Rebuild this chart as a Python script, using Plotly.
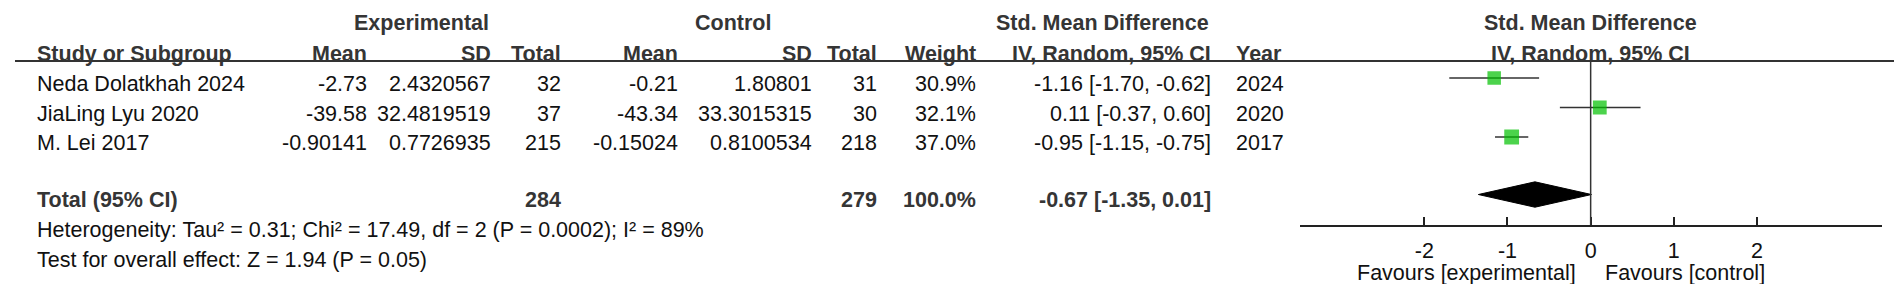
import plotly.graph_objects as go

# ---------------- data ----------------
studies = ["Neda Dolatkhah 2024", "JiaLing Lyu 2020", "M. Lei 2017"]
exp_mean = [-2.73, -39.58, -0.90141]
exp_sd = [2.4320567, 32.4819519, 0.7726935]
exp_total = [32, 37, 215]
ctrl_mean = [-0.21, -43.34, -0.15024]
ctrl_sd = [1.80801, 33.3015315, 0.8100534]
ctrl_total = [31, 30, 218]
weight = [30.9, 32.1, 37.0]
smd = [-1.16, 0.11, -0.95]
ci_lo = [-1.70, -0.37, -1.15]
ci_hi = [-0.62, 0.60, -0.75]
years = [2024, 2020, 2017]

total_exp = 284
total_ctrl = 279
total_weight = 100.0
total_smd = -0.67
total_lo = -1.35
total_hi = 0.01

heterogeneity = "Heterogeneity: Tau² = 0.31; Chi² = 17.49, df = 2 (P = 0.0002); I² = 89%"
overall = "Test for overall effect: Z = 1.94 (P = 0.05)"
tick_vals = [-2, -1, 0, 1, 2]
tick_text = ["-2", "-1", "0", "1", "2"]
fav_left = "Favours [experimental]"
fav_right = "Favours [control]"

# ---------------- layout helpers ----------------
W, H = 1902, 284
FONT = "Liberation Sans, Arial, sans-serif"
FS = 21.5
C_REG = "#111111"
C_BOLD = "#353535"


def px(x):
    return x / W


def py(y):
    return 1 - y / H


rows = [1, 2, 3]
total_row = 4.95
ROW_TOP_PX, ROW_STEP = 70.0, 29.5
HEADER_LINE = 53
AXIS_LINE = 217
y_top = 1 + (HEADER_LINE - ROW_TOP_PX) / ROW_STEP
y_bot = 1 + (AXIS_LINE - ROW_TOP_PX) / ROW_STEP

fig = go.Figure()

# study squares with CI whiskers
fig.add_trace(go.Scatter(
    x=smd, y=rows, mode="markers",
    marker=dict(symbol="square", color="#00C000",
                size=[13.5 * (w / weight[0]) ** 0.5 for w in weight],
                line=dict(width=0)),
    error_x=dict(type="data", symmetric=False,
                 array=[h - s for h, s in zip(ci_hi, smd)],
                 arrayminus=[s - l for s, l in zip(smd, ci_lo)],
                 width=0, thickness=1.5, color="#333333"),
    hoverinfo="skip",
))

# pooled diamond
dh = 0.43
fig.add_trace(go.Scatter(
    x=[total_lo, total_smd, total_hi, total_smd, total_lo],
    y=[total_row, total_row - dh, total_row, total_row + dh, total_row],
    mode="lines", fill="toself", fillcolor="#000000",
    line=dict(color="#000000", width=1), hoverinfo="skip",
))

ann = []


def txt(x, y, s, anchor="right", bold=False, xref="paper", xshift=0, color=None):
    ann.append(dict(
        x=px(x) if xref == "paper" else x, y=py(y), xref=xref, yref="paper",
        text=f"<b>{s}</b>" if bold else s, showarrow=False,
        xanchor=anchor, yanchor="middle", xshift=xshift,
        font=dict(family=FONT, size=FS, color=color or (C_BOLD if bold else C_REG)),
    ))


LEFT = 27
# headers
Y1, Y2 = 15, 46
txt(413.5, Y1, "Experimental", "center", True)
txt(725, Y1, "Control", "center", True)
txt(1203, Y1, "Std. Mean Difference", "right", True)
txt(0, Y1, "Std. Mean Difference", "center", True, xref="x")

txt(LEFT, Y2, "Study or Subgroup", "left", True)
col_right = dict(em=361, esd=485, et=555, cm=672, csd=806, ct=871, w=970, ci=1205)
txt(col_right["em"], Y2, "Mean", bold=True)
txt(col_right["esd"], Y2, "SD", bold=True)
txt(col_right["et"], Y2, "Total", bold=True)
txt(col_right["cm"], Y2, "Mean", bold=True)
txt(col_right["csd"], Y2, "SD", bold=True)
txt(col_right["ct"], Y2, "Total", bold=True)
txt(col_right["w"], Y2, "Weight", bold=True)
txt(col_right["ci"], Y2, "IV, Random, 95% CI", bold=True)
txt(1226, Y2, "Year", "left", True)
txt(0, Y2, "IV, Random, 95% CI", "center", True, xref="x")

# study rows
row_text_y = [76, 105.5, 134.5]
for i, yy in enumerate(row_text_y):
    txt(LEFT, yy, studies[i], "left")
    txt(col_right["em"], yy, str(exp_mean[i]))
    txt(col_right["esd"], yy, str(exp_sd[i]))
    txt(col_right["et"], yy, str(exp_total[i]))
    txt(col_right["cm"], yy, str(ctrl_mean[i]))
    txt(col_right["csd"], yy, str(ctrl_sd[i]))
    txt(col_right["ct"], yy, str(ctrl_total[i]))
    txt(col_right["w"], yy, f"{weight[i]:.1f}%")
    txt(col_right["ci"], yy, f"{smd[i]:.2f} [{ci_lo[i]:.2f}, {ci_hi[i]:.2f}]")
    txt(1226, yy, str(years[i]), "left")

# total row
YT = 192
txt(LEFT, YT, "Total (95% CI)", "left", True)
txt(col_right["et"], YT, str(total_exp), bold=True)
txt(col_right["ct"], YT, str(total_ctrl), bold=True)
txt(col_right["w"], YT, f"{total_weight:.1f}%", bold=True)
txt(col_right["ci"], YT, f"{total_smd:.2f} [{total_lo:.2f}, {total_hi:.2f}]", bold=True)

txt(LEFT, 222, heterogeneity, "left")
txt(LEFT, 252, overall, "left")

# favours labels
txt(0, 265, fav_left, "right", xref="x", xshift=-13)
txt(0, 265, fav_right, "left", xref="x", xshift=12)

shapes = [
    dict(type="line", xref="paper", yref="paper", x0=px(7), x1=px(1895),
         y0=py(HEADER_LINE), y1=py(HEADER_LINE), line=dict(color="#333333", width=2)),
    dict(type="line", xref="x", yref="paper", x0=0, x1=0,
         y0=py(AXIS_LINE), y1=py(HEADER_LINE), line=dict(color="#333333", width=1.5)),
]

fig.update_layout(
    width=W, height=H, margin=dict(l=0, r=0, t=0, b=0),
    paper_bgcolor="white", plot_bgcolor="white", showlegend=False,
    annotations=ann, shapes=shapes,
    xaxis=dict(domain=[px(1291.6), px(1873.7)], range=[-3.5, 3.5],
               tickvals=tick_vals, ticktext=tick_text, ticks="inside", ticklen=8,
               tickwidth=1.5, tickcolor="#222222", showline=True,
               linecolor="#222222", linewidth=2,
               showgrid=False, zeroline=False, ticklabelstandoff=5,
               tickfont=dict(family=FONT, size=FS, color=C_REG), fixedrange=True),
    yaxis=dict(domain=[py(AXIS_LINE), py(HEADER_LINE)], range=[y_bot, y_top],
               visible=False, fixedrange=True),
)

fig.write_html("out.html")
